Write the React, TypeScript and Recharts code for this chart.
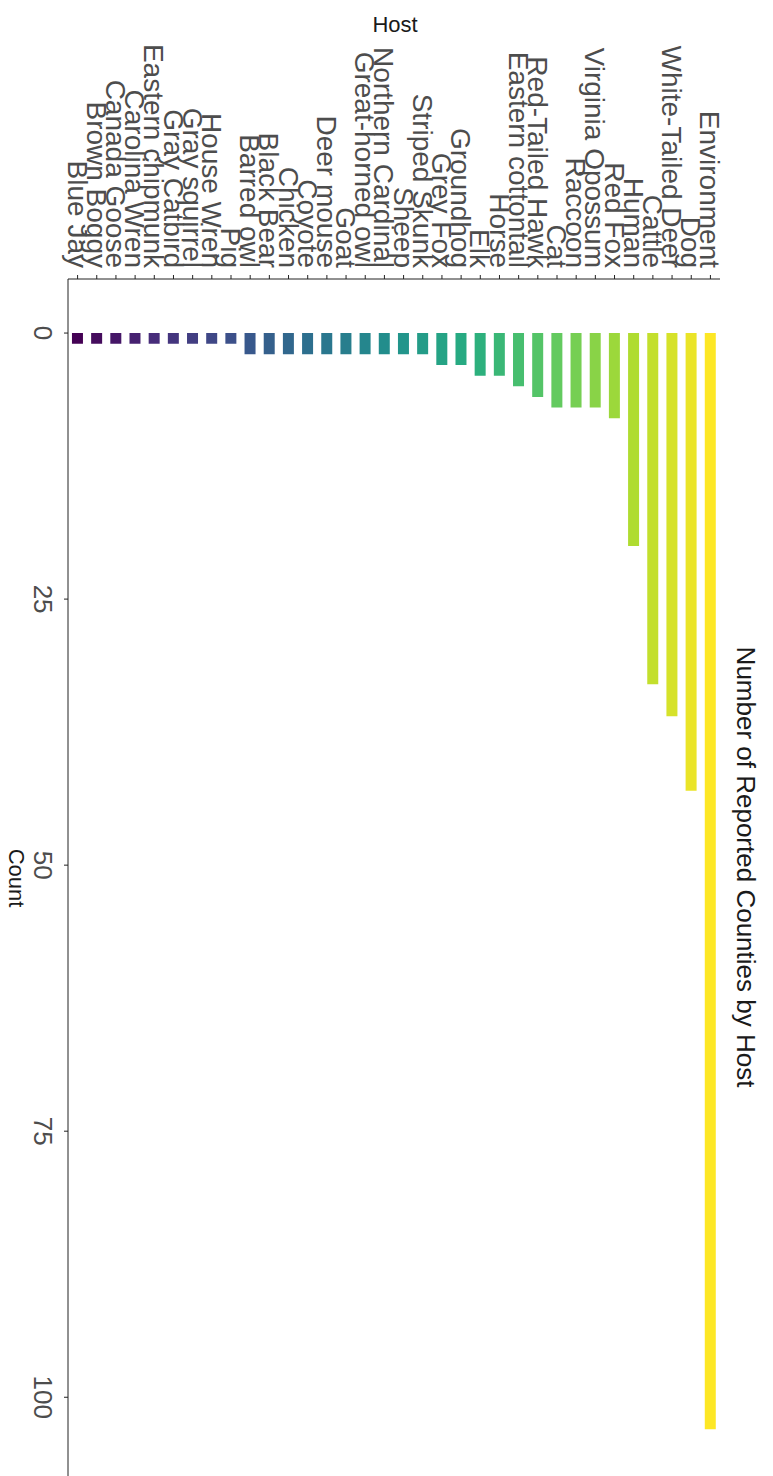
import React from 'react';
import { BarChart, Bar, XAxis, YAxis, Cell } from 'recharts';

// hosts, top to bottom in the original (unrotated) chart
const hosts = [
  'Environment', 'Dog', 'White-Tailed Deer', 'Cattle', 'Human', 'Red Fox',
  'Virginia Opossum', 'Raccoon', 'Cat', 'Red-Tailed Hawk', 'Eastern cottontail',
  'Horse', 'Elk', 'Groundhog', 'Grey Fox', 'Striped Skunk', 'Sheep',
  'Northern Cardinal', 'Great-horned owl', 'Goat', 'Deer mouse', 'Coyote',
  'Chicken', 'Black Bear', 'Barred owl', 'Pig', 'House Wren', 'Gray squirrel',
  'Gray Catbird', 'Eastern chipmunk', 'Carolina Wren', 'Canada Goose',
  'Brown Boggy', 'Blue Jay',
];

const counts = [
  103, 43, 36, 33, 20, 8,
  7, 7, 7, 6, 5,
  4, 4, 3, 3, 2, 2,
  2, 2, 2, 2, 2,
  2, 2, 2, 1, 1, 1,
  1, 1, 1, 1,
  1, 1,
];

const countTicks = [0, 25, 50, 75, 100];

const data = hosts.map((host, i) => ({ host, count: counts[i] }));

// viridis palette stops
const VIRIDIS = ['#440154', '#472d7b', '#3b528b', '#2c728e', '#21918c', '#28ae80', '#5ec962', '#addc30', '#fde725'];

const hexToRgb = (h: string) => [1, 3, 5].map(k => parseInt(h.slice(k, k + 2), 16));

const viridis = (t: number) => {
  const pos = t * (VIRIDIS.length - 1);
  const i = Math.min(Math.floor(pos), VIRIDIS.length - 2);
  const f = pos - i;
  const a = hexToRgb(VIRIDIS[i]);
  const b = hexToRgb(VIRIDIS[i + 1]);
  const c = a.map((v, k) => Math.round(v + (b[k] - v) * f));
  return `rgb(${c[0]},${c[1]},${c[2]})`;
};

const FONT = '"Liberation Sans", Arial, sans-serif';
const W = 1476;
const H = 773;

export default function App() {
  const n = hosts.length;
  return (
    <div style={{ position: 'absolute', left: 0, top: 0, width: H, height: W, overflow: 'hidden', background: '#fff', fontFamily: FONT }}>
      <div
        style={{
          position: 'absolute',
          left: 0,
          top: 0,
          width: W,
          height: H,
          transform: `translateX(${H}px) rotate(90deg)`,
          transformOrigin: '0 0',
        }}
      >
        {/* title */}
        <div style={{ position: 'absolute', left: 467, top: 12, width: 800, lineHeight: '30px', textAlign: 'center', fontSize: 26, color: '#1a1a1a' }}>
          Number of Reported Counties by Host
        </div>
        {/* y axis title */}
        <div style={{ position: 'absolute', left: -25, top: 363, width: 100, height: 30, lineHeight: '30px', textAlign: 'center', fontSize: 22, color: '#1a1a1a', transform: 'rotate(-90deg)' }}>
          Host
        </div>
        {/* x axis title */}
        <div style={{ position: 'absolute', left: 828, top: 744, width: 100, lineHeight: '26px', textAlign: 'center', fontSize: 22, color: '#1a1a1a' }}>
          Count
        </div>
        <BarChart
          width={W}
          height={H}
          data={data}
          layout="vertical"
          margin={{ top: 53, right: 0, bottom: 0, left: 0 }}
          barCategoryGap="22%"
          style={{ fontFamily: FONT }}
        >
          <XAxis
            type="number"
            dataKey="count"
            domain={[-5.08, 107.4]}
            allowDataOverflow
            ticks={countTicks}
            height={68}
            tickSize={4}
            tickMargin={12}
            stroke="#222"
            tick={{ fontSize: 26, fill: '#4d4d4d', fontFamily: FONT }}
          />
          <YAxis
            type="category"
            dataKey="host"
            width={279}
            interval={0}
            tickSize={4}
            tickMargin={7}
            stroke="#222"
            tick={{ fontSize: 28, fill: '#4d4d4d', fontFamily: FONT }}
          />
          <Bar dataKey="count" isAnimationActive={false}>
            {data.map((d, i) => (
              <Cell key={d.host} fill={viridis((n - 1 - i) / (n - 1))} />
            ))}
          </Bar>
        </BarChart>
      </div>
    </div>
  );
}
